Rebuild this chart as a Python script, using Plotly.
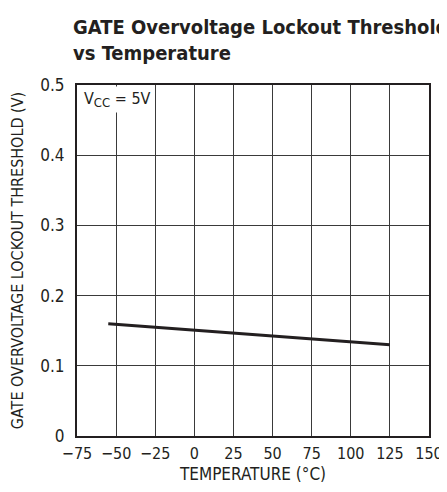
import plotly.graph_objects as go

# data
temp_c = [-55, 125]
threshold_v = [0.160, 0.130]

x_ticks = [-75, -50, -25, 0, 25, 50, 75, 100, 125, 150]
y_ticks = [0, 0.1, 0.2, 0.3, 0.4, 0.5]
y_ticktext = ["0", "0.1", "0.2", "0.3", "0.4", "0.5"]

FONT = "DejaVu Sans Condensed, Roboto, Liberation Sans, sans-serif"
INK = "#231f20"
GRID = "#3a3a3a"

# page body has an 8px margin all round; keep the page short enough
# that no scrollbar appears
W, H = 439, 476
ML, MR, MT, MB = 69, 18, 77, 48
PW, PH = W - ML - MR, H - MT - MB

fig = go.Figure()
fig.add_trace(go.Scatter(
    x=temp_c, y=threshold_v, mode="lines",
    line=dict(color=INK, width=3), hoverinfo="skip",
))

# V_CC note, top-left inside the plot
fig.add_annotation(
    text="V<sub><span style='font-size:13px'>CC</span></sub> = 5V",
    xref="paper", yref="paper",
    x=0.01, y=0.997, xanchor="left", yanchor="top", showarrow=False,
    font=dict(family=FONT, size=16, color=INK),
    bgcolor="white", borderpad=2,
)

# title as annotation so it sits where the reference has it
fig.add_annotation(
    text="<b>GATE Overvoltage Lockout Threshold<br>vs Temperature</b>",
    xref="paper", yref="paper",
    x=-6 / PW, y=1 + 72 / PH,
    xanchor="left", yanchor="top", align="left", showarrow=False,
    font=dict(family=FONT, size=20, color=INK),
)

fig.update_layout(
    width=W, height=H,
    paper_bgcolor="white", plot_bgcolor="white",
    font=dict(family=FONT, size=17, color=INK),
    margin=dict(l=ML, r=MR, t=MT, b=MB),
    showlegend=False,
    xaxis=dict(
        range=[-75, 150], tickvals=x_ticks, ticks="", automargin=False,
        tickfont=dict(size=16),
        showgrid=True, gridcolor=GRID, gridwidth=1, zeroline=False,
        showline=True, linecolor=INK, linewidth=2, mirror=True,
        ticklabelstandoff=2,
        title=dict(text="TEMPERATURE (°C)", standoff=10, font=dict(size=17)),
    ),
    yaxis=dict(
        range=[0, 0.5], tickvals=y_ticks, ticktext=y_ticktext, ticks="", automargin=False,
        showgrid=True, gridcolor=GRID, gridwidth=1, zeroline=False,
        showline=True, linecolor=INK, linewidth=2, mirror=True,
        ticklabelstandoff=7,
        title=dict(text="GATE OVERVOLTAGE LOCKOUT THRESHOLD (V)", standoff=13, font=dict(size=16)),
    ),
)

fig.write_html("out.html")
